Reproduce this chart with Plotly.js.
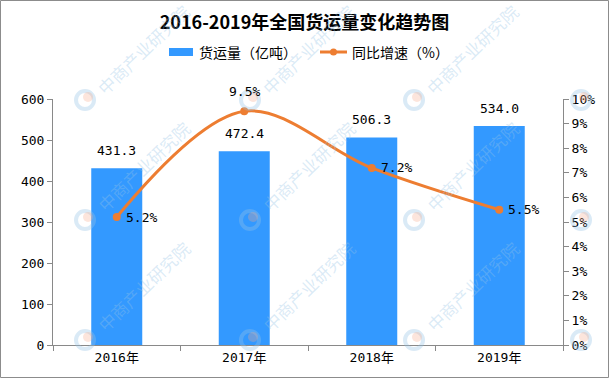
<!DOCTYPE html>
<html>
<head>
<meta charset="utf-8">
<script src="https://cdn.plot.ly/plotly-3.0.1.min.js"></script>
<style>
html,body{margin:0;padding:0;background:#fff;}
#chart{width:609px;height:378px;}
</style>
</head>
<body>
<div id="chart"></div>
<script>
// ---- data ----
const years = ["2016年", "2017年", "2018年", "2019年"];
const volume = [431.3, 472.4, 506.3, 534.0];      // 货运量（亿吨）
const growth = [5.2, 9.5, 7.2, 5.5];              // 同比增速（%）
const growthLabelPos = ["right", "top", "right", "right"];
const yTicks = [0, 100, 200, 300, 400, 500, 600];
const y2Ticks = [0, 1, 2, 3, 4, 5, 6, 7, 8, 9, 10];
const y2TickText = ["0%", "1%", "2%", "3%", "4%", "5%", "6%", "7%", "8%", "9%", "10%"];
const seriesNames = ["货运量（亿吨）", "同比增速（%）"];

const cjk = '"Noto Sans CJK SC", sans-serif';
const mono = '"DejaVu Sans Mono", "Noto Sans CJK SC", monospace';
const barColor = "#3399FF", lineColor = "#ED7D31";

const W = 609, H = 378, mL = 53, mR = 46, mT = 99, mB = 33;
const pw = W - mL - mR, ph = H - mT - mB;
const px = v => (v - mL) / pw;
const py = v => (H - mB - v) / ph;

const traces = [
  {
    type: "bar", name: seriesNames[0], x: years, y: volume,
    marker: {color: barColor}, width: 0.4, yaxis: "y"
  },
  {
    type: "scatter", mode: "lines+markers", name: seriesNames[1], x: years, y: growth,
    yaxis: "y2", line: {color: lineColor, width: 3, shape: "spline", smoothing: 1},
    marker: {color: lineColor, size: 8}, cliponaxis: false
  }
];

const annotations = [];
const shapes = [];

// watermark (decorative, drawn first so data labels sit on top)
const wmX = [85, 250, 414, 581], wmY = [100, 220, 340];
wmX.forEach(x => wmY.forEach(y => {
  if (x < 500) {
    const cy = Math.max(y - 54, 50);
    annotations.push({
      xref: "paper", yref: "paper", x: px(x + 58), y: py(cy), xanchor: "center", yanchor: "middle",
      text: "中商产业研究院", showarrow: false, textangle: -44,
      font: {family: cjk, size: 17, color: "rgba(150,195,230,0.35)"}
    });
  }
  shapes.push({
    type: "circle", xref: "paper", yref: "paper", layer: "above",
    x0: px(x - 9), x1: px(x + 9), y0: py(y + 9), y1: py(y - 9),
    line: {color: "rgba(150,195,230,0.35)", width: 4}
  });
  shapes.push({
    type: "circle", xref: "paper", yref: "paper", layer: "above",
    x0: px(x - 2), x1: px(x + 8), y0: py(y + 2), y1: py(y - 8),
    fillcolor: "rgba(245,170,140,0.3)", line: {width: 0}
  });
}));

volume.forEach((v, i) => {
  annotations.push({
    x: years[i], y: v, xref: "x", yref: "y", text: v.toFixed(1), showarrow: false,
    xanchor: "center", yanchor: "bottom", yshift: 8, font: {family: mono, size: 13, color: "#000"}
  });
});
growth.forEach((g, i) => {
  const right = growthLabelPos[i] === "right";
  annotations.push({
    x: years[i], y: g, xref: "x", yref: "y2", text: g.toFixed(1) + "%", showarrow: false,
    xanchor: right ? "left" : "center", yanchor: right ? "middle" : "bottom",
    xshift: right ? 7 : 0, yshift: right ? 0 : 10,
    font: {family: mono, size: 13, color: "#000"}
  });
});

// custom legend
shapes.push({type: "rect", xref: "paper", yref: "paper", x0: px(169), x1: px(193), y0: py(56), y1: py(48),
  fillcolor: barColor, line: {width: 0}});
annotations.push({xref: "paper", yref: "paper", x: px(197), y: py(52), xanchor: "left", yanchor: "middle",
  text: seriesNames[0], showarrow: false, font: {family: cjk, size: 14, color: "#000"}});
shapes.push({type: "line", xref: "paper", yref: "paper", x0: px(320), x1: px(347), y0: py(52), y1: py(52),
  line: {color: lineColor, width: 3}});
shapes.push({type: "circle", xref: "paper", yref: "paper", x0: px(330), x1: px(337), y0: py(55.5), y1: py(48.5),
  fillcolor: lineColor, line: {width: 0}});
annotations.push({xref: "paper", yref: "paper", x: px(350), y: py(52), xanchor: "left", yanchor: "middle",
  text: seriesNames[1], showarrow: false, font: {family: cjk, size: 14, color: "#000"}});

// outer frame
shapes.push({
  type: "rect", xref: "paper", yref: "paper", layer: "above",
  x0: px(0.5), x1: px(W - 0.5), y0: py(H - 0.5), y1: py(0.5),
  line: {color: "#8c8c8c", width: 1}
});

const layout = {
  width: W, height: H,
  margin: {l: mL, r: mR, t: mT, b: mB, pad: 0},
  paper_bgcolor: "#fff", plot_bgcolor: "#fff",
  title: {
    text: "<b>2016-2019年全国货运量变化趋势图</b>",
    x: 0.5, xanchor: "center", y: 1 - 23 / H, yanchor: "middle", yref: "container",
    font: {family: cjk, size: 18, color: "#000"}
  },
  showlegend: false,
  xaxis: {
    type: "category", tickson: "boundaries", ticks: "outside", ticklen: 5, tickcolor: "#898989",
    showline: true, linecolor: "#898989", linewidth: 1, showgrid: false, zeroline: false,
    tickfont: {family: mono, size: 13, color: "#000"}, range: [-0.5, 3.5]
  },
  yaxis: {
    range: [0, 600], tickmode: "array", tickvals: yTicks, ticks: "outside", ticklen: 5, tickcolor: "#898989",
    showline: true, linecolor: "#898989", showgrid: false, zeroline: false,
    tickfont: {family: mono, size: 13, color: "#000"}
  },
  yaxis2: {
    overlaying: "y", side: "right", range: [0, 10], tickmode: "array", tickvals: y2Ticks, ticktext: y2TickText,
    ticks: "outside", ticklen: 5, tickcolor: "#898989",
    showline: true, linecolor: "#898989", showgrid: false, zeroline: false,
    tickfont: {family: mono, size: 13, color: "#000"}
  },
  annotations: annotations,
  shapes: shapes
};

Plotly.newPlot("chart", traces, layout, {displayModeBar: false, staticPlot: true});
</script>
</body>
</html>
